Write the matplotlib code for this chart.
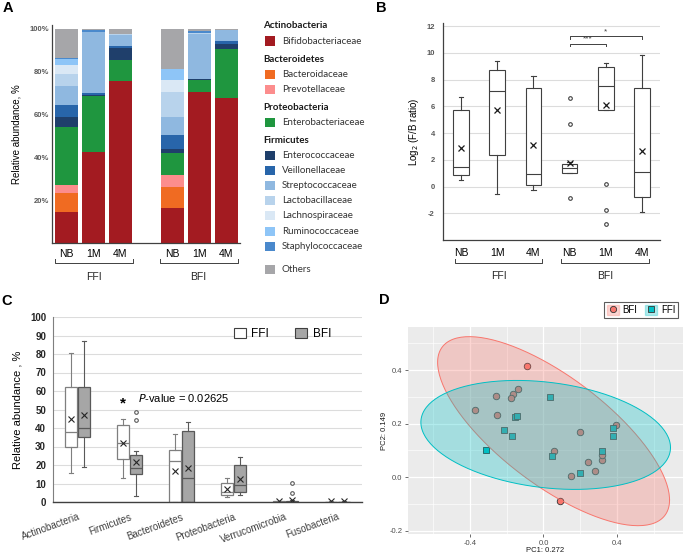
import numpy as np
import matplotlib.pyplot as plt
from matplotlib.patches import Patch, Rectangle
from matplotlib.lines import Line2D

plt.rcParams['font.family'] = ['Liberation Sans', 'DejaVu Sans']

# ---------------- data ----------------
# A: relative abundance of families (%), samples FFI NB/1M/4M, BFI NB/1M/4M
a_times = ['NB', '1M', '4M', 'NB', '1M', '4M']
bifidobacteriaceae = [14.3, 42.4, 75.7, 16.5, 70.6, 67.9]
bacteroidaceae = [9.2, 0.0, 0.0, 9.8, 0.0, 0.0]
prevotellaceae = [3.4, 0.0, 0.0, 5.5, 0.0, 0.0]
enterobacteriaceae = [27.5, 26.1, 9.8, 10.4, 5.6, 22.6]
enterococcaceae = [4.3, 0.8, 5.8, 1.9, 0.3, 2.6]
veillonellaceae = [5.6, 0.8, 0.9, 6.2, 0.0, 1.3]
streptococcaceae = [9.2, 28.7, 5.2, 8.6, 21.0, 5.3]
lactobacillaceae = [5.3, 0.0, 0.3, 11.8, 0.5, 0.0]
lachnospiraceae = [4.4, 0.0, 0.0, 5.5, 0.0, 0.0]
ruminococcaceae = [2.6, 0.0, 0.0, 5.0, 0.0, 0.0]
staphylococcaceae = [0.5, 0.5, 0.0, 0.0, 1.0, 0.0]
others = [13.7, 0.7, 2.3, 18.8, 1.0, 0.3]

a_names = ['Bifidobacteriaceae', 'Bacteroidaceae', 'Prevotellaceae', 'Enterobacteriaceae',
           'Enterococcaceae', 'Veillonellaceae', 'Streptococcaceae', 'Lactobacillaceae',
           'Lachnospiraceae', 'Ruminococcaceae', 'Staphylococcaceae', 'Others']
a_stack = [bifidobacteriaceae, bacteroidaceae, prevotellaceae, enterobacteriaceae,
           enterococcaceae, veillonellaceae, streptococcaceae, lactobacillaceae,
           lachnospiraceae, ruminococcaceae, staphylococcaceae, others]
a_colors = ['#a31b21', '#f06b22', '#fc8d8d', '#1f963f', '#1f3f6b', '#2865aa',
            '#8fb8e0', '#b8d3ec', '#dae8f5', '#8ec5f7', '#4a89cc', '#a6a6a9']
a_headers = [('Actinobacteria', [0]), ('Bacteroidetes', [1, 2]), ('Proteobacteria', [3]),
             ('Firmicutes', [4, 5, 6, 7, 8, 9, 10]), (None, [11])]

# B: log2 F/B ratio box statistics
b_labels = ['NB', '1M', '4M', 'NB', '1M', '4M']
b_med = [1.47, 7.13, 0.93, 1.35, 7.55, 1.05]
b_q1 = [0.83, 2.38, 0.10, 1.00, 5.69, -0.81]
b_q3 = [5.74, 8.73, 7.40, 1.67, 8.90, 7.35]
b_lo = [0.49, -0.59, -0.25, 1.00, 5.69, -1.91]
b_hi = [6.72, 9.41, 8.24, 1.81, 9.24, 9.83]
b_mean = [2.87, 5.69, 3.09, 1.76, 6.08, 2.65]
b_fliers = [[], [], [], [6.62, 4.66, -0.83], [0.2, -1.72, -2.77], []]

# C: phylum relative abundance box statistics
c_phyla = ['Actinobacteria', 'Firmicutes', 'Bacteroidetes', 'Proteobacteria',
           'Verrucomicrobia', 'Fusobacteria']
ffi_med = [37.8, 32.1, 22.3, 5.4, 0.0, 0.0]
ffi_q1 = [29.7, 23.2, 0.0, 4.0, 0.0, 0.0]
ffi_q3 = [62.0, 41.6, 28.1, 10.5, 0.3, 0.2]
ffi_lo = [15.5, 13.2, 0.0, 2.9, 0.0, 0.0]
ffi_hi = [80.7, 44.9, 36.8, 13.0, 0.5, 0.3]
ffi_mean = [44.9, 32.0, 16.6, 7.2, 0.4, 0.4]
ffi_fliers = [[], [], [], [], [], []]
bfi_med = [40.0, 18.4, 12.8, 9.0, 0.1, 0.0]
bfi_q1 = [35.0, 15.0, 0.0, 5.4, 0.0, 0.0]
bfi_q3 = [62.3, 25.2, 38.2, 20.2, 0.5, 0.2]
bfi_lo = [18.9, 3.4, 0.0, 3.6, 0.0, 0.0]
bfi_hi = [87.2, 27.7, 43.2, 24.5, 1.0, 0.4]
bfi_mean = [47.0, 21.4, 18.4, 12.4, 1.2, 0.5]
bfi_fliers = [[], [48.5, 44.5], [], [], [10.5, 4.7], []]

# D: PCoA coordinates
bfi_pc1 = [-0.088, -0.258, -0.166, -0.179, -0.139, -0.372, -0.253, 0.197, 0.395,
           0.058, 0.240, 0.316, 0.316, 0.280, 0.152, 0.092]
bfi_pc2 = [0.416, 0.305, 0.310, 0.297, 0.329, 0.250, 0.232, 0.170, 0.194,
           0.097, 0.057, 0.066, 0.084, 0.025, 0.005, -0.087]
ffi_pc1 = [0.034, -0.155, -0.146, -0.213, -0.173, -0.312, 0.045, 0.200, 0.320, 0.379, 0.379]
ffi_pc2 = [0.301, 0.225, 0.228, 0.176, 0.154, 0.100, 0.078, 0.017, 0.097, 0.182, 0.154]
bfi_ell_center = [0.055, 0.172]
bfi_ell_shape = [[0.398, -0.162], [-0.162, 0.1246]]
ffi_ell_center = [0.012, 0.158]
ffi_ell_shape = [[0.461, -0.032], [-0.032, 0.0414]]

W, H = 685, 556
fig = plt.figure(figsize=(W / 100, H / 100), dpi=100)


def px_axes(l, t, r, b):
    return fig.add_axes([l / W, 1 - b / H, (r - l) / W, (b - t) / H])


def group_bracket(ax, x0, x1, y, ytick, label, ylab, fs=7.5):
    tr = ax.get_xaxis_transform()
    ax.plot([x0, x0, x1, x1], [ytick, y, y, ytick], color='#404040', lw=0.7,
            transform=tr, clip_on=False)
    ax.text((x0 + x1) / 2, ylab, label, transform=tr, ha='center', va='center',
            fontsize=fs, color='#262626')


# ---------------- A ----------------
axA = px_axes(52, 24.7, 240, 243)
a_pos = np.r_[np.arange(3), np.arange(3) + 3.93]
bottom = np.zeros(6)
for vals, col, name in zip(a_stack, a_colors, a_names):
    axA.bar(a_pos, vals, bottom=bottom, width=0.85, color=col, label=name, linewidth=0)
    bottom += np.array(vals)
axA.set_xlim(-0.54, 6.44)
axA.set_ylim(0, 102)
axA.set_yticks([20, 40, 60, 80, 100])
axA.set_yticklabels(['20%', '40%', '60%', '80%', '100%'], fontsize=5.5,
                    color='#595959', fontweight='bold')
axA.set_xticks(a_pos)
axA.set_xticklabels(a_times, fontsize=7.5)
axA.tick_params(length=0, pad=4)
axA.tick_params(axis='y', pad=2)
for s in ['top', 'right']:
    axA.spines[s].set_visible(False)
for s in ['left', 'bottom']:
    axA.spines[s].set_color('#404040')
    axA.spines[s].set_linewidth(0.9)
axA.set_ylabel('Relative abundance, %', fontsize=7, labelpad=6)
group_bracket(axA, -0.43, 2.46, -0.092, -0.073, 'FFI', -0.156)
group_bracket(axA, 3.46, 6.35, -0.092, -0.073, 'BFI', -0.156)

# legend of A
y = 26
for header, idx in a_headers:
    if header is not None:
        fig.text(263 / W, 1 - y / H, header, fontsize=7, fontweight='bold',
                 family=['Lato', 'DejaVu Sans'], va='center', color='#1a1a1a')
        y += 15
    else:
        y += 5
    for i in idx:
        fig.add_artist(Rectangle((265 / W, 1 - (y + 4.5) / H), 10 / W, 9 / H,
                                 transform=fig.transFigure, facecolor=a_colors[i],
                                 edgecolor='none'))
        fig.text(282 / W, 1 - y / H, a_names[i], fontsize=7, va='center',
                 family=['Lato', 'DejaVu Sans'], color='#333333')
        y += 15.2
    y += 2.8

# ---------------- B ----------------
axB = px_axes(443, 22.7, 660, 240)
b_pos = np.arange(1, 7)
b_stats = [dict(med=b_med[i], q1=b_q1[i], q3=b_q3[i], whislo=b_lo[i], whishi=b_hi[i],
                mean=b_mean[i], fliers=b_fliers[i]) for i in range(6)]
box_c = '#404040'
axB.bxp(b_stats, positions=b_pos, widths=0.43, showmeans=True, patch_artist=True,
        capwidths=0.12,
        boxprops=dict(facecolor='white', edgecolor=box_c, linewidth=0.8),
        medianprops=dict(color=box_c, linewidth=0.8),
        whiskerprops=dict(color=box_c, linewidth=0.8),
        capprops=dict(color=box_c, linewidth=0.8),
        meanprops=dict(marker='x', markeredgecolor='#1a1a1a', markersize=5,
                       markeredgewidth=0.9),
        flierprops=dict(marker='o', markersize=2.6, markerfacecolor='white',
                        markeredgecolor=box_c, markeredgewidth=0.8))
axB.set_xlim(0.5, 6.5)
axB.set_ylim(-4, 12.25)
axB.set_yticks(np.arange(-2, 13, 2))
axB.set_yticklabels([str(v) for v in range(-2, 13, 2)], fontsize=5.5,
                    color='#595959', fontweight='bold')
axB.yaxis.grid(True, color='#dcdcdc', linewidth=0.8)
axB.set_axisbelow(True)
axB.set_xticks(b_pos)
axB.set_xticklabels(b_labels, fontsize=7.5)
axB.tick_params(length=0)
axB.tick_params(axis='x', pad=6)
axB.tick_params(axis='y', pad=6)
for s in ['top', 'right']:
    axB.spines[s].set_visible(False)
for s in ['left', 'bottom']:
    axB.spines[s].set_color('#404040')
    axB.spines[s].set_linewidth(0.9)
axB.set_ylabel('Log$_2$ (F/B ratio)', fontsize=7, labelpad=4)
group_bracket(axB, 0.84, 3.25, -0.106, -0.087, 'FFI', -0.166)
group_bracket(axB, 3.77, 6.19, -0.106, -0.087, 'BFI', -0.166)
# significance
axB.plot([4, 4, 6, 6], [11.03, 11.23, 11.23, 11.03], color='#404040', lw=0.7)
axB.text(5, 11.3, '*', ha='center', va='bottom', fontsize=6, color='#404040')
axB.plot([4, 4, 5, 5], [10.49, 10.69, 10.69, 10.49], color='#404040', lw=0.7)
axB.text(4.5, 10.76, '***', ha='center', va='bottom', fontsize=6, color='#404040')

# ---------------- C ----------------
axC = px_axes(53, 317, 362, 502)
c_x = np.arange(len(c_phyla))
ffi_stats = [dict(med=ffi_med[i], q1=ffi_q1[i], q3=ffi_q3[i], whislo=ffi_lo[i],
                  whishi=ffi_hi[i], mean=ffi_mean[i], fliers=ffi_fliers[i])
             for i in range(6)]
bfi_stats = [dict(med=bfi_med[i], q1=bfi_q1[i], q3=bfi_q3[i], whislo=bfi_lo[i],
                  whishi=bfi_hi[i], mean=bfi_mean[i], fliers=bfi_fliers[i])
             for i in range(6)]
for stats, off, fc, ec in [(ffi_stats, -0.125, 'white', '#7f7f7f'),
                           (bfi_stats, 0.125, '#a6a6a6', '#595959')]:
    axC.bxp(stats, positions=c_x + off, widths=0.23, showmeans=True, patch_artist=True,
            capwidths=0.08,
            boxprops=dict(facecolor=fc, edgecolor=ec, linewidth=0.9),
            medianprops=dict(color=ec, linewidth=0.9),
            whiskerprops=dict(color=ec, linewidth=0.8),
            capprops=dict(color=ec, linewidth=0.8),
            meanprops=dict(marker='x', markeredgecolor='#262626', markersize=5,
                           markeredgewidth=0.8),
            flierprops=dict(marker='o', markersize=2.6, markerfacecolor='white',
                            markeredgecolor='#595959', markeredgewidth=0.8))
axC.set_xlim(-0.48, 5.48)
axC.set_ylim(0, 100)
axC.set_yticks(np.arange(0, 101, 10))
axC.set_yticklabels([str(v) for v in range(0, 101, 10)], fontsize=7,
                    fontweight='bold', color='#262626')
axC.yaxis.grid(True, color='#dcdcdc', linewidth=0.8)
axC.set_axisbelow(True)
axC.set_xticks(c_x)
axC.set_xticklabels(c_phyla, rotation=20, ha='right', rotation_mode='anchor',
                    fontsize=7, color='#404040')
axC.tick_params(length=0)
axC.tick_params(axis='x', pad=7)
axC.tick_params(axis='y', pad=5)
for s in ['top', 'right']:
    axC.spines[s].set_visible(False)
axC.spines['left'].set_color('#7f7f7f')
axC.spines['left'].set_linewidth(0.8)
axC.spines['bottom'].set_color('#404040')
axC.spines['bottom'].set_linewidth(1.0)
axC.set_ylabel('Relative abundance , %', fontsize=8, labelpad=5)
axC.text(0.87, 53.5, '*', ha='center', va='center', fontsize=11, fontweight='bold')
axC.text(1.16, 56, '$\\it{P}$-value = 0.02625', ha='left', va='center', fontsize=8)
axC.legend(handles=[Patch(facecolor='white', edgecolor='#404040', linewidth=0.8, label='FFI'),
                    Patch(facecolor='#a6a6a6', edgecolor='#404040', linewidth=0.8, label='BFI')],
           loc='upper right', bbox_to_anchor=(0.935, 1.0), ncol=2, frameon=False,
           fontsize=8.5, handlelength=1.0, handleheight=1.0, columnspacing=2.2,
           handletextpad=0.5)

# ---------------- D ----------------
axD = px_axes(408, 327, 683, 534)
axD.set_facecolor('#ebebeb')
red, teal = '#F8766D', '#00BFC4'
axD.scatter(bfi_pc1, bfi_pc2, s=22, marker='o', facecolor=red, edgecolor='#333333',
            linewidth=0.6, zorder=3)
axD.scatter(ffi_pc1, ffi_pc2, s=22, marker='s', facecolor=teal, edgecolor='#333333',
            linewidth=0.6, zorder=3)
t = np.linspace(0, 2 * np.pi, 200)
for cen, shape, col in [(bfi_ell_center, bfi_ell_shape, red),
                        (ffi_ell_center, ffi_ell_shape, teal)]:
    L = np.linalg.cholesky(np.array(shape))
    pts = np.array(cen)[:, None] + L @ np.vstack([np.cos(t), np.sin(t)])
    axD.fill(pts[0], pts[1], facecolor=col, alpha=0.3, edgecolor='none', zorder=4)
    axD.plot(pts[0], pts[1], color=col, lw=0.7, zorder=4)
axD.set_xlim(-0.737, 0.759)
axD.set_ylim(-0.212, 0.561)
axD.set_xticks([-0.4, 0.0, 0.4])
axD.set_yticks([-0.2, 0.0, 0.2, 0.4])
axD.set_xticks([-0.6, -0.2, 0.2, 0.6], minor=True)
axD.set_yticks([-0.1, 0.1, 0.3, 0.5], minor=True)
axD.set_xticklabels(['-0.4', '0.0', '0.4'])
axD.set_yticklabels(['-0.2', '0.0', '0.2', '0.4'])
axD.grid(True, which='major', color='white', linewidth=0.9)
axD.grid(True, which='minor', color='white', linewidth=0.45)
axD.set_axisbelow(True)
axD.tick_params(which='major', labelsize=5.5, labelcolor='#4d4d4d', color='#333333',
                length=2.5, width=0.5, pad=1.5)
axD.tick_params(which='minor', length=0)
for s in axD.spines.values():
    s.set_visible(False)
axD.set_xlabel('PC1: 0.272', fontsize=5.5, color='#1a1a1a', labelpad=0.5)
axD.set_ylabel('PC2: 0.149', fontsize=5.5, color='#1a1a1a', labelpad=1)
h_bfi = (Patch(facecolor=red, alpha=0.3, edgecolor=red),
         Line2D([], [], marker='o', ls='', markersize=4.5, markerfacecolor=red,
                markeredgecolor='#333333', markeredgewidth=0.6))
h_ffi = (Patch(facecolor=teal, alpha=0.3, edgecolor=teal),
         Line2D([], [], marker='s', ls='', markersize=4.5, markerfacecolor=teal,
                markeredgecolor='#333333', markeredgewidth=0.6))
legD = axD.legend([h_bfi, h_ffi], ['BFI', 'FFI'], loc='lower right',
                  bbox_to_anchor=(1.0, 1.02), ncol=2, fontsize=7, frameon=True,
                  fancybox=False, handlelength=1.2, handleheight=1.2,
                  handletextpad=0.4, columnspacing=0.8, borderpad=0.3)
legD.get_frame().set_edgecolor('#333333')
legD.get_frame().set_linewidth(0.8)

# panel letters
for letter, x, y in [('A', 7.5, 8.5), ('B', 381, 8), ('C', 7, 301), ('D', 384, 300)]:
    fig.text(x / W, 1 - y / H, letter, fontsize=10.5, fontweight='bold',
             ha='center', va='center')

fig.savefig('out.png', dpi=100)
